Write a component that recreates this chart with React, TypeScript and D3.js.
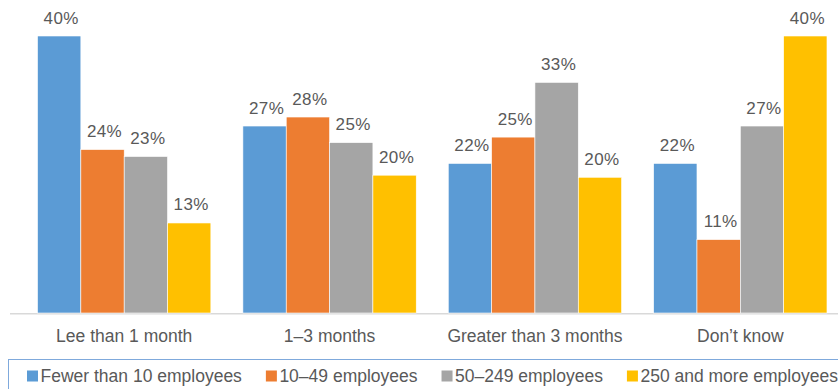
import React, { useEffect, useRef } from "react";
import * as d3 from "d3";

const categories = ["Lee than 1 month", "1–3 months", "Greater than 3 months", "Don’t know"];
const seriesNames = ["Fewer than 10 employees", "10–49 employees", "50–249 employees", "250 and more employees"];
const seriesColors = ["#5b9bd5", "#ed7d31", "#a5a5a5", "#ffc000"];
// values per series, across categories
const fewerThan10 = [40, 27, 21.6, 21.6];
const from10to49 = [23.6, 28.3, 25.4, 10.6];
const from50to249 = [22.6, 24.6, 33.3, 27];
const over250 = [13, 19.9, 19.6, 40];
const seriesValues = [fewerThan10, from10to49, from50to249, over250];

const W = 838;
const H = 389;
const FONT = "'Liberation Sans', Arial, sans-serif";
const TEXT = "#595959";

export default function App() {
  const ref = useRef<SVGSVGElement>(null);

  useEffect(() => {
    const svg = d3.select(ref.current);
    svg.selectAll("*").remove();

    const x0 = d3.scaleBand<string>().domain(categories).range([21.5, 843]).paddingInner(0.156).paddingOuter(0.078);
    const x1 = d3.scaleBand<string>().domain(seriesNames).range([0, x0.bandwidth()]);
    const y = d3.scaleLinear().domain([0, 40]).range([313, 36]);

    // axis line
    svg.append("line")
      .attr("x1", 10).attr("x2", W)
      .attr("y1", y(0) + 0.8).attr("y2", y(0) + 0.8)
      .attr("stroke", "#d9d9d9").attr("stroke-width", 1.5);

    const groups = svg.selectAll("g.grp").data(categories).enter().append("g")
      .attr("class", "grp")
      .attr("transform", (c) => `translate(${x0(c)},0)`);

    groups.each(function (c, ci) {
      const g = d3.select(this);
      seriesNames.forEach((s, si) => {
        const v = seriesValues[si][ci];
        g.append("rect")
          .attr("x", x1(s)!)
          .attr("y", y(v))
          .attr("width", x1.bandwidth())
          .attr("height", y(0) - y(v))
          .attr("fill", seriesColors[si])
          .attr("stroke", "#ffffff")
          .attr("stroke-width", 0.6);
        g.append("text")
          .attr("x", x1(s)! + x1.bandwidth() / 2 + 2)
          .attr("y", y(v) - 12.5)
          .attr("text-anchor", "middle")
          .attr("font-family", FONT)
          .attr("font-size", 17)
          .attr("letter-spacing", 0.4)
          .attr("fill", TEXT)
          .text(`${Math.round(v)}%`);
      });
    });

    // category labels
    svg.selectAll("text.cat").data(categories).enter().append("text")
      .attr("class", "cat")
      .attr("x", (c) => x0(c)! + x0.bandwidth() / 2)
      .attr("y", 342)
      .attr("text-anchor", "middle")
      .attr("font-family", FONT)
      .attr("font-size", 17.5)
      .attr("fill", TEXT)
      .text((c) => c);

    // legend box
    svg.append("rect")
      .attr("x", 8.5).attr("y", 359.5)
      .attr("width", W + 20).attr("height", 60)
      .attr("fill", "none").attr("stroke", "#7fa9dc").attr("stroke-width", 1);

    let lx = 27;
    seriesNames.forEach((s, si) => {
      svg.append("rect")
        .attr("x", lx).attr("y", 370.5)
        .attr("width", 11).attr("height", 11)
        .attr("fill", seriesColors[si]);
      const t = svg.append("text")
        .attr("x", lx + 13.5).attr("y", 382)
        .attr("font-family", FONT)
        .attr("font-size", 17.5)
        .attr("fill", TEXT)
        .text(s);
      const w = (t.node() as SVGTextElement).getComputedTextLength();
      lx = lx + 13.5 + w + 24;
    });
  }, []);

  return (
    <svg
      ref={ref}
      width={W}
      height={H}
      style={{ position: "absolute", left: 0, top: 0, display: "block", background: "#fff" }}
    />
  );
}
